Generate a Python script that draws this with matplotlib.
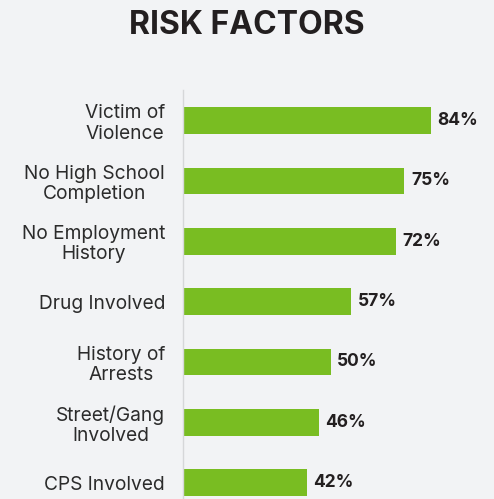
import matplotlib
matplotlib.use("Agg")
import matplotlib.pyplot as plt

categories = ["Victim of\nViolence", "No High School\nCompletion", "No Employment\nHistory",
              "Drug Involved", "History of\nArrests", "Street/Gang\nInvolved", "CPS Involved"]
values = [84, 75, 72, 57, 50, 46, 42]
value_labels = ["84%", "75%", "72%", "57%", "50%", "46%", "42%"]
title = "RISK FACTORS"

BG = "#f2f3f5"
GREEN = "#79bd22"
DARK = "#231f20"
FONT = ["Inter", "DejaVu Sans"]

W, H = 494, 499
fig = plt.figure(figsize=(W / 100, H / 100), dpi=100, facecolor=BG)
ax = fig.add_axes([183 / W, 0, 1 - 183 / W, 1 - 90 / H], facecolor=BG)

pos = list(range(len(values)))
ax.barh(pos, values, height=0.44, color=GREEN, edgecolor="none")
ax.set_ylim(6.27, -0.505)
ax.set_xlim(0, (W - 183) / 2.952)

for s in ["top", "right", "bottom"]:
    ax.spines[s].set_visible(False)
ax.spines["left"].set_color("#d6d7d9")
ax.spines["left"].set_linewidth(1.0)
ax.set_xticks([])
ax.set_yticks(pos)
ax.set_yticklabels(categories, fontsize=13.8, color="#2b2b2b", family=FONT,
                   linespacing=1.15, ha="right", multialignment="center")
ax.tick_params(axis="y", length=0, pad=13)

for p, v, lab in zip(pos, values, value_labels):
    ax.text(v + 2.2, p, lab, va="center", ha="left", fontsize=12.5, fontweight="bold",
            color=DARK, family=FONT)

fig.text(0.5, 1 - 25.5 / H, title, ha="center", va="center", fontsize=23,
         fontweight="bold", color=DARK, family=FONT)

fig.savefig("out.png", dpi=100, facecolor=BG)
